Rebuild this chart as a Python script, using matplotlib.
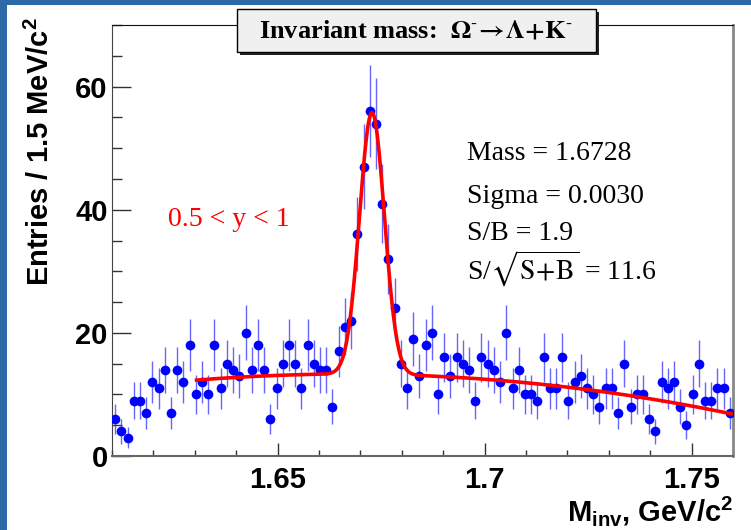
import numpy as np
import matplotlib
matplotlib.use('Agg')
import matplotlib.pyplot as plt
from matplotlib.patches import Rectangle
from matplotlib.ticker import MultipleLocator

# entries per 1.5 MeV bin, 1.61 - 1.76 GeV/c^2
counts = [6, 4, 3, 9, 9, 7, 12, 11, 14, 7,
          14, 12, 18, 10, 12, 10, 18, 11, 15, 14,
          13, 20, 14, 18, 14, 6, 11, 15, 18, 15,
          11, 18, 15, 14, 14, 8, 17, 21, 22, 36,
          47, 56, 54, 41, 32, 24, 15, 11, 19, 13,
          18, 20, 10, 16, 13, 16, 15, 14, 9, 16,
          15, 14, 12, 20, 11, 14, 10, 10, 9, 16,
          11, 11, 16, 9, 12, 13, 11, 10, 8, 11,
          11, 7, 15, 8, 10, 10, 6, 4, 12, 11,
          12, 8, 5, 10, 15, 9, 9, 11, 11, 7]
m_lo, m_hi = 1.61, 1.76
bin_width = 0.0015

# gaussian + quadratic background fit
fit_mass = 1.6728
fit_sigma = 0.0030
fit_amp = 42.5
bkg_pivot = 1.665
bkg_coef = [13.3, 2.46, -746.0]
fit_lo, fit_hi = 1.63, 1.76

stats_lines = ['Mass = 1.6728', 'Sigma = 0.0030', 'S/B = 1.9',
               r'S/$\sqrt{\mathrm{S\!+\!B}}$ = 11.6']
rapidity_label = '0.5 < y < 1'
title = (r'Invariant mass:  $\mathbf{\Omega^{\text{-}}\!\rightarrow\!\Lambda'
         r'\!+\!K^{\text{-}}}$')

plt.rcParams['mathtext.fontset'] = 'custom'
plt.rcParams['mathtext.rm'] = 'Liberation Sans:bold'
plt.rcParams['mathtext.bf'] = 'Liberation Sans:bold'
plt.rcParams['mathtext.it'] = 'Liberation Sans:bold:italic'

W, H = 751, 530


def fx(x):
    return x / W


def fy(y):
    return 1 - y / H


fig = plt.figure(figsize=(W / 100, H / 100), dpi=100)
ax = fig.add_axes([fx(112), fy(456), fx(733) - fx(112), fy(25) - fy(456)])

centers = m_lo + bin_width * (np.arange(len(counts)) + 0.5)
counts = np.array(counts, dtype=float)
ax.errorbar(centers, counts, yerr=np.sqrt(counts), fmt='o', color='#0000ff',
            ms=7, mew=0, elinewidth=1.0, ecolor=(0.2, 0.2, 1.0, 0.75),
            capsize=0, zorder=3)

xf = np.linspace(fit_lo, fit_hi, 600)
u = xf - bkg_pivot
bkg = bkg_coef[0] + bkg_coef[1] * u + bkg_coef[2] * u ** 2
yf = bkg + fit_amp * np.exp(-0.5 * ((xf - fit_mass) / fit_sigma) ** 2)
ax.plot(xf, yf, color='#ff0000', lw=2.6, zorder=4, solid_capstyle='butt')

ax.set_xlim(m_lo, m_hi)
ax.set_ylim(0, 70)
ax.set_xticks([1.65, 1.7, 1.75])
ax.set_xticklabels(['1.65', '1.7', '1.75'])
ax.xaxis.set_minor_locator(MultipleLocator(0.01))
ax.set_yticks([0, 20, 40, 60])
ax.yaxis.set_minor_locator(MultipleLocator(5))
ax.tick_params(which='both', direction='in', top=False, right=False, width=1,
               color='#333333')
ax.tick_params(axis='x', which='major', length=9.5, pad=7)
ax.tick_params(axis='x', which='minor', length=4.5)
ax.tick_params(axis='y', which='major', length=13.5, pad=3)
ax.tick_params(axis='y', which='minor', length=7)
for lab in ax.get_xticklabels() + ax.get_yticklabels():
    lab.set_fontfamily('Liberation Sans')
    lab.set_fontweight('bold')
    lab.set_fontsize(21)

ax.spines['top'].set_color('#111111')
ax.spines['left'].set_color('#444444')
ax.spines['bottom'].set_color('#666666')
ax.spines['bottom'].set_linewidth(1.5)
ax.spines['right'].set_color('#888888')
ax.spines['right'].set_linewidth(2.0)

fig.text(fx(40), fy(17), r'Entries / 1.5 MeV/c$^{\mathbf{2}}$', rotation=90,
         ha='center', va='top', fontsize=21, fontweight='bold',
         fontfamily='Liberation Sans', math_fontfamily='custom')
fig.text(fx(733), fy(521), r'M$_{\mathbf{inv}}$, GeV/c$^{\mathbf{2}}$',
         ha='right', va='baseline', fontsize=21, fontweight='bold',
         fontfamily='Liberation Sans', math_fontfamily='custom')

# title pave with shadow
bx0, by0, bx1, by1 = 237, 9, 596, 52
fig.add_artist(Rectangle((fx(bx0 + 3), fy(by1 + 3)), fx(bx1 - bx0), fy(by0) - fy(by1),
                         transform=fig.transFigure, facecolor='#222222',
                         edgecolor='none', zorder=5))
fig.add_artist(Rectangle((fx(bx0), fy(by1)), fx(bx1 - bx0), fy(by0) - fy(by1),
                         transform=fig.transFigure, facecolor='#f0f0f0',
                         edgecolor='black', lw=1, zorder=6))
fig.text(fx((bx0 + bx1) / 2), fy(31), title, ha='center', va='center',
         fontsize=19, fontweight='bold', fontfamily='Liberation Serif',
         math_fontfamily='stix', zorder=7)

for line, base in zip(stats_lines, [160, 203, 240, 280]):
    fig.text(fx(467), fy(base), line, ha='left', va='baseline', fontsize=20,
             fontfamily='Liberation Serif', math_fontfamily='stix', zorder=7)
fig.text(fx(168), fy(226), rapidity_label, ha='left', va='baseline',
         fontsize=20, color='#ff0000', fontfamily='Liberation Serif', zorder=7)

# slide border
edge = '#2d69a6'
fig.add_artist(Rectangle((0, 0), fx(7), 1, transform=fig.transFigure,
                         facecolor=edge, edgecolor='none', zorder=10))
fig.add_artist(Rectangle((0, fy(5)), 1, 5 / H, transform=fig.transFigure,
                         facecolor=edge, edgecolor='none', zorder=10))

fig.savefig('out.png', dpi=100)
